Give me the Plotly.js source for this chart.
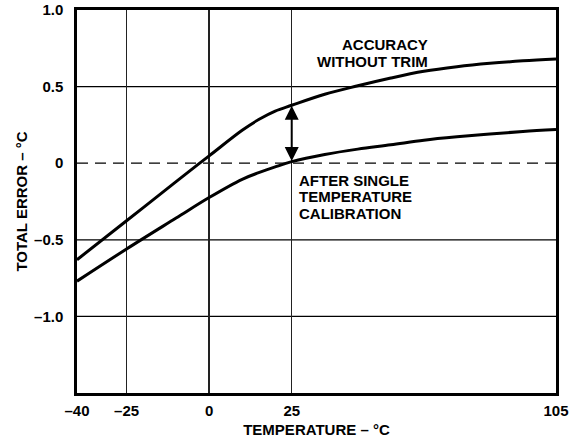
<!DOCTYPE html>
<html>
<head>
<meta charset="utf-8">
<script src="https://cdn.plot.ly/plotly-3.0.1.min.js"></script>
<style>html,body{margin:0;padding:0;background:#fff;}#chart{width:576px;height:438px;}</style>
</head>
<body>
<div id="chart"></div>
<script>
// Data
const temperature      = [-40, -25, -10, 0, 10, 15, 20, 25, 35, 45, 55, 65, 75, 85, 95, 105];
const errorWithoutTrim = [-0.63, -0.376, -0.12, 0.048, 0.215, 0.285, 0.34, 0.378, 0.45, 0.505, 0.556, 0.60, 0.63, 0.652, 0.668, 0.68];
const errorAfterCal    = [-0.77, -0.56, -0.358, -0.224, -0.105, -0.062, -0.024, 0.01, 0.057, 0.092, 0.12, 0.15, 0.172, 0.19, 0.207, 0.22];

const xTickVals   = [-40, -25, 0, 25, 105];
const xTickLabels = ['\u201340', '\u201325', '0', '25', '105'];
const yTickVals   = [1.0, 0.5, 0, -0.5, -1.0];
const yTickLabels = ['1.0', '0.5', '0', '\u20130.5', '\u20131.0'];
const yGridVals   = [0.5, -0.5, -1.0];
const zeroRef     = 0;

// Arrow between the two curves at calibration temperature
const calTemp = 25;
const arrowTop = 0.375;
const arrowBottom = 0.005;

const FONT = 'Liberation Sans, Arial, Helvetica, sans-serif';
const f = (s) => ({family: FONT, size: s, color: '#000', weight: 'bold'});

const traces = [
  {x: temperature, y: errorWithoutTrim, mode: 'lines', line: {color: '#000', width: 3, shape: 'spline', smoothing: 1}, hoverinfo: 'skip'},
  {x: temperature, y: errorAfterCal, mode: 'lines', line: {color: '#000', width: 3, shape: 'spline', smoothing: 1}, hoverinfo: 'skip'}
];

const shapes = yGridVals.map(v => ({
  type: 'line', xref: 'paper', yref: 'y', x0: 0, x1: 1, y0: v, y1: v,
  line: {color: '#000', width: 1.2}, layer: 'below'
}));
shapes.push({type: 'line', xref: 'paper', yref: 'y', x0: 0, x1: 1, y0: zeroRef, y1: zeroRef,
  line: {color: '#000', width: 1.2, dash: '11px,7px'}, layer: 'below'});

const annotations = [
  {x: 66.9, y: 0.778, xref: 'x', yref: 'y', text: 'ACCURACY', showarrow: false, xanchor: 'right', yanchor: 'middle', font: f(15)},
  {x: 66.9, y: 0.667, xref: 'x', yref: 'y', text: 'WITHOUT TRIM', showarrow: false, xanchor: 'right', yanchor: 'middle', font: f(15)},
  {x: 26.5, y: -0.113, xref: 'x', yref: 'y', text: 'AFTER SINGLE', showarrow: false, xanchor: 'left', yanchor: 'middle', font: f(15)},
  {x: 26.5, y: -0.218, xref: 'x', yref: 'y', text: 'TEMPERATURE', showarrow: false, xanchor: 'left', yanchor: 'middle', font: f(15)},
  {x: 26.5, y: -0.330, xref: 'x', yref: 'y', text: 'CALIBRATION', showarrow: false, xanchor: 'left', yanchor: 'middle', font: f(15)},
  {x: calTemp, y: arrowTop, ax: calTemp, ay: arrowBottom, xref: 'x', yref: 'y', axref: 'x', ayref: 'y',
   text: '', showarrow: true, arrowhead: 2, startarrowhead: 2, arrowside: 'end+start',
   arrowsize: 1.4, startarrowsize: 1.4, arrowwidth: 2, arrowcolor: '#000', standoff: 0, startstandoff: 0}
];

const layout = {
  width: 576, height: 438,
  margin: {l: 77, r: 20, t: 10, b: 45, pad: 0},
  paper_bgcolor: '#fff', plot_bgcolor: '#fff',
  showlegend: false,
  font: f(15),
  xaxis: {
    range: [-40, 105], tickmode: 'array', tickvals: xTickVals, ticktext: xTickLabels,
    showgrid: true, gridcolor: '#222', gridwidth: 1.3, zeroline: false,
    showline: true, mirror: true, linecolor: '#000', linewidth: 2.7,
    ticks: '', tickfont: f(15), ticklabelstandoff: 2,
    title: {text: 'TEMPERATURE \u2013 \u00B0C', font: f(15)},
    automargin: false, fixedrange: true
  },
  yaxis: {
    range: [-1.5, 1.0], tickmode: 'array', tickvals: yTickVals, ticktext: yTickLabels,
    showgrid: false, zeroline: false,
    showline: true, mirror: true, linecolor: '#000', linewidth: 2.7,
    ticks: '', tickfont: f(15), ticklabelstandoff: 8,
    title: {text: 'TOTAL ERROR \u2013 \u00B0C', font: f(15), standoff: 3},
    automargin: 'left', fixedrange: true
  },
  shapes: shapes,
  annotations: annotations
};

Plotly.newPlot('chart', traces, layout, {staticPlot: true, displayModeBar: false});
</script>
</body>
</html>
